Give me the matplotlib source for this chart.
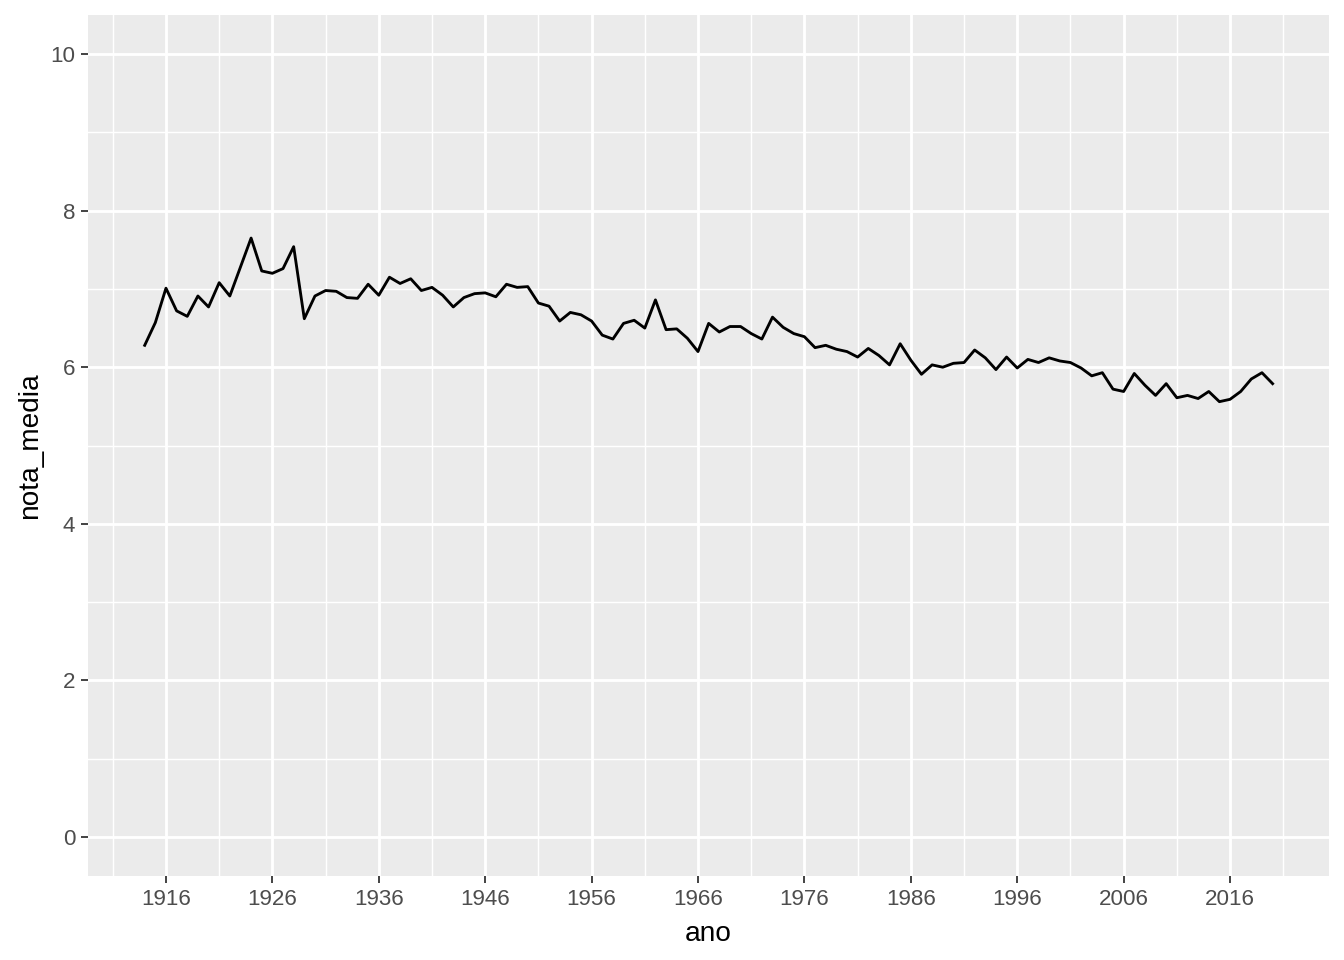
import matplotlib.pyplot as plt
from matplotlib.ticker import MultipleLocator, FixedLocator

plt.rcParams['font.family'] = ['Liberation Sans', 'DejaVu Sans']

# nota media por ano
anos = list(range(1914, 2021))
nota_media = [
    6.28, 6.57, 7.01, 6.72, 6.65, 6.91, 6.77, 7.08, 6.91, 7.28,  # 1914-1923
    7.65, 7.23, 7.20, 7.26, 7.54, 6.62, 6.91, 6.98, 6.97, 6.89,  # 1924-1933
    6.88, 7.06, 6.92, 7.15, 7.07, 7.13, 6.98, 7.02, 6.92, 6.77,  # 1934-1943
    6.89, 6.94, 6.95, 6.90, 7.06, 7.02, 7.03, 6.82, 6.78, 6.59,  # 1944-1953
    6.70, 6.67, 6.59, 6.41, 6.36, 6.56, 6.60, 6.50, 6.86, 6.48,  # 1954-1963
    6.49, 6.37, 6.20, 6.56, 6.45, 6.52, 6.52, 6.43, 6.36, 6.64,  # 1964-1973
    6.51, 6.43, 6.39, 6.25, 6.28, 6.23, 6.20, 6.13, 6.24, 6.15,  # 1974-1983
    6.03, 6.30, 6.09, 5.91, 6.03, 6.00, 6.05, 6.06, 6.22, 6.12,  # 1984-1993
    5.97, 6.13, 5.99, 6.10, 6.06, 6.12, 6.08, 6.06, 5.99, 5.89,  # 1994-2003
    5.93, 5.72, 5.69, 5.92, 5.77, 5.64, 5.79, 5.61, 5.64, 5.60,  # 2004-2013
    5.69, 5.56, 5.59, 5.69, 5.85, 5.93, 5.79,                    # 2014-2020
]
x_breaks = list(range(1916, 2017, 10))
x_minor = list(range(1911, 2022, 10))
y_breaks = [0, 2, 4, 6, 8, 10]

fig = plt.figure(figsize=(1344 / 144, 960 / 144), dpi=144)
ax = fig.add_axes([88.3 / 1344, 1 - 876 / 960, (1329 - 88.3) / 1344, (876 - 15) / 960])

ax.set_facecolor('#EBEBEB')
ax.plot(anos, nota_media, color='black', linewidth=1.42, zorder=3)

span = anos[-1] - anos[0]
ax.set_xlim(anos[0] - 0.05 * span, anos[-1] + 0.05 * span)
ax.set_ylim(-0.5, 10.5)

ax.xaxis.set_major_locator(FixedLocator(x_breaks))
ax.xaxis.set_minor_locator(FixedLocator(x_minor))
ax.yaxis.set_major_locator(FixedLocator(y_breaks))
ax.yaxis.set_minor_locator(MultipleLocator(1))

ax.grid(which='major', color='white', linewidth=1.42)
ax.grid(which='minor', color='white', linewidth=0.71)
ax.set_axisbelow(True)

for s in ax.spines.values():
    s.set_visible(False)

ax.tick_params(which='major', length=3.5, width=0.9, color='#333333',
               labelsize=11.2, labelcolor='#4D4D4D', pad=3)
ax.tick_params(which='minor', length=0)

ax.set_xlabel('ano', fontsize=14, labelpad=5.5)
ax.set_ylabel('nota_media', fontsize=14, labelpad=3.5)

fig.savefig('out.png', dpi=144)
